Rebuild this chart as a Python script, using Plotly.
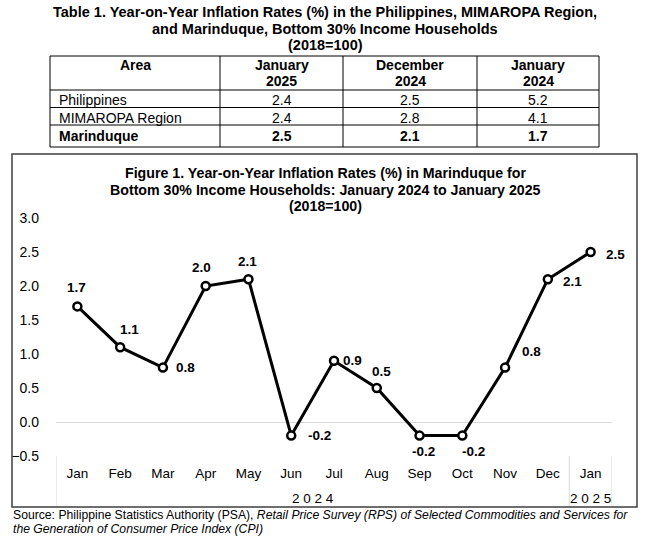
import plotly.graph_objects as go

# ---------------- data ----------------
table_title_lines = ["Table 1. Year-on-Year Inflation Rates (%) in the Philippines, MIMAROPA Region,",
                     "and Marinduque, Bottom 30% Income Households",
                     "(2018=100)"]
table_header = [["Area"], ["January", "2025"], ["December", "2024"], ["January", "2024"]]
table_areas = ["Philippines", "MIMAROPA Region", "Marinduque"]
table_jan2025 = [2.4, 2.4, 2.5]
table_dec2024 = [2.5, 2.8, 2.1]
table_jan2024 = [5.2, 4.1, 1.7]

fig_title_lines = ["Figure 1. Year-on-Year Inflation Rates (%) in Marinduque for",
                   "Bottom 30% Income Households: January 2024 to January 2025",
                   "(2018=100)"]
years = ["2024"] * 12 + ["2025"]
months = ["Jan", "Feb", "Mar", "Apr", "May", "Jun", "Jul", "Aug", "Sep", "Oct", "Nov", "Dec", "Jan"]
inflation = [1.7, 1.1, 0.8, 2.0, 2.1, -0.2, 0.9, 0.5, -0.2, -0.2, 0.8, 2.1, 2.5]

source_lines = ["Source: Philippine Statistics Authority (PSA), <i>Retail Price Survey (RPS) of Selected Commodities and Services for</i>",
                "<i>the Generation of Consumer Price Index (CPI)</i>"]

# ---------------- styling / layout constants ----------------
W, H = 648, 537
FONT = "Liberation Sans, Arial, sans-serif"


def px(x):
    return x / W


def py(y):
    return 1 - y / H


# label offsets (xshift, yshift) in pixels for each data label
label_shift = [(-1, 19), (9, 18), (23, 0), (-4, 19), (-1, 18), (28, 0), (18, 0),
               (5, 17), (4, -16), (11, -16), (26, 16), (25, -2), (25, -2)]

fig = go.Figure()

xs = list(range(len(months)))
fig.add_trace(go.Scatter(
    x=xs, y=inflation, mode="lines+markers",
    line=dict(color="black", width=3),
    marker=dict(symbol="circle", size=8, color="white", line=dict(color="black", width=2.5)),
    hovertext=[f"{m} {y}" for m, y in zip(months, years)], hoverinfo="text+y",
    showlegend=False, cliponaxis=False,
))

annotations = []
shapes = []


def txt(x, y, text, size, bold=False, xanchor="center", yanchor="middle", **kw):
    t = f"<b>{text}</b>" if bold else text
    d = dict(x=x, y=y, xref="paper", yref="paper", text=t, showarrow=False,
             xanchor=xanchor, yanchor=yanchor, font=dict(family=FONT, size=size, color="black"))
    d.update(kw)
    annotations.append(d)


# data labels
for i, v in enumerate(inflation):
    dx, dy = label_shift[i]
    annotations.append(dict(
        x=xs[i], y=v, xref="x", yref="y", text=f"<b>{v:.1f}</b>", showarrow=False,
        xshift=dx, yshift=dy, xanchor="center", yanchor="middle",
        font=dict(family=FONT, size=13.5, color="black"),
    ))

# year group labels and dividers
groups = []
for i, y in enumerate(years):
    if not groups or groups[-1][0] != y:
        groups.append([y, i, i])
    else:
        groups[-1][2] = i
for y, a, b in groups:
    annotations.append(dict(
        x=(xs[a] + xs[b]) / 2, y=py(498), xref="x", yref="paper", text=" ".join(y), showarrow=False,
        xanchor="center", yanchor="middle", font=dict(family=FONT, size=13.5, color="black"),
    ))
bounds = [xs[groups[0][1]] - 0.5] + [xs[b] + 0.5 for _, _, b in groups]
for bx in bounds:
    shapes.append(dict(type="line", xref="x", yref="paper", x0=bx, x1=bx, y0=py(507), y1=py(456),
                       line=dict(color="#d9d9d9", width=1)))

# table title
for k, line in enumerate(table_title_lines):
    txt(px(325), py(12.5 + 16 * k), line, 14.5, bold=True)

# table drawn with shapes + annotations
col_edges = [50, 220, 343, 477, 599]
row_edges = [56, 90, 107.5, 125, 147]
shapes.append(dict(type="rect", xref="paper", yref="paper", x0=px(col_edges[0]), x1=px(col_edges[-1]),
                   y0=py(row_edges[-1]), y1=py(row_edges[0]), line=dict(color="black", width=1)))
for xe in col_edges[1:-1]:
    shapes.append(dict(type="line", xref="paper", yref="paper", x0=px(xe), x1=px(xe),
                       y0=py(row_edges[-1]), y1=py(row_edges[0]), line=dict(color="black", width=1)))
for ye in row_edges[1:-1]:
    shapes.append(dict(type="line", xref="paper", yref="paper", x0=px(col_edges[0]), x1=px(col_edges[-1]),
                       y0=py(ye), y1=py(ye), line=dict(color="black", width=1)))

for c, hl in enumerate(table_header):
    cx = (col_edges[c] + col_edges[c + 1]) / 2
    for k, line in enumerate(hl):
        txt(px(cx), py(65 + 16 * k), line, 14, bold=True)

cols = [table_jan2025, table_dec2024, table_jan2024]
row_text_y = [100, 117.5, 135.5]
for r, area in enumerate(table_areas):
    cy = row_text_y[r]
    bold = area == "Marinduque"
    txt(px(col_edges[0] + 7), py(cy), area, 14, bold=bold, xanchor="left")
    for c, col in enumerate(cols):
        cx = (col_edges[c + 1] + col_edges[c + 2]) / 2
        txt(px(cx), py(cy), f"{col[r]:.1f}", 14, bold=bold)

# chart box
shapes.append(dict(type="rect", xref="paper", yref="paper", x0=px(12), x1=px(637), y0=py(507), y1=py(154),
                   line=dict(color="#3f3f3f", width=1.5)))

# figure title
for k, line in enumerate(fig_title_lines):
    txt(px(325), py(173 + 16.5 * k), line, 14.2, bold=True)

# source
for k, line in enumerate(source_lines):
    txt(px(11), py(515 + 13.5 * k), line, 12.2, xanchor="left")

fig.update_layout(
    width=W, height=H, margin=dict(l=0, r=0, t=0, b=0, autoexpand=False),
    paper_bgcolor="white", plot_bgcolor="white",
    font=dict(family=FONT, color="black"),
    hovermode="closest",
    xaxis=dict(
        domain=[px(56), px(612)], anchor="y", range=[-0.5, len(months) - 0.5],
        tickmode="array", tickvals=xs, ticktext=months,
        showgrid=False, zeroline=False, showline=False, automargin=False,
        ticks="outside", ticklen=5, tickcolor="rgba(0,0,0,0)",
        tickfont=dict(family=FONT, size=13.5, color="black"),
    ),
    yaxis=dict(
        domain=[py(456), py(218)], range=[-0.5, 3.0], dtick=0.5, tick0=0, tickformat=".1f",
        showgrid=False, zeroline=True, zerolinecolor="#d9d9d9", zerolinewidth=1,
        showline=False, ticks="", ticklabelstandoff=16, automargin=False,
        tickfont=dict(family=FONT, size=14, color="black"),
    ),
    shapes=shapes, annotations=annotations,
)

fig.write_html("out.html", config={"displayModeBar": False},
               post_script="document.body.style.margin='0px';")
